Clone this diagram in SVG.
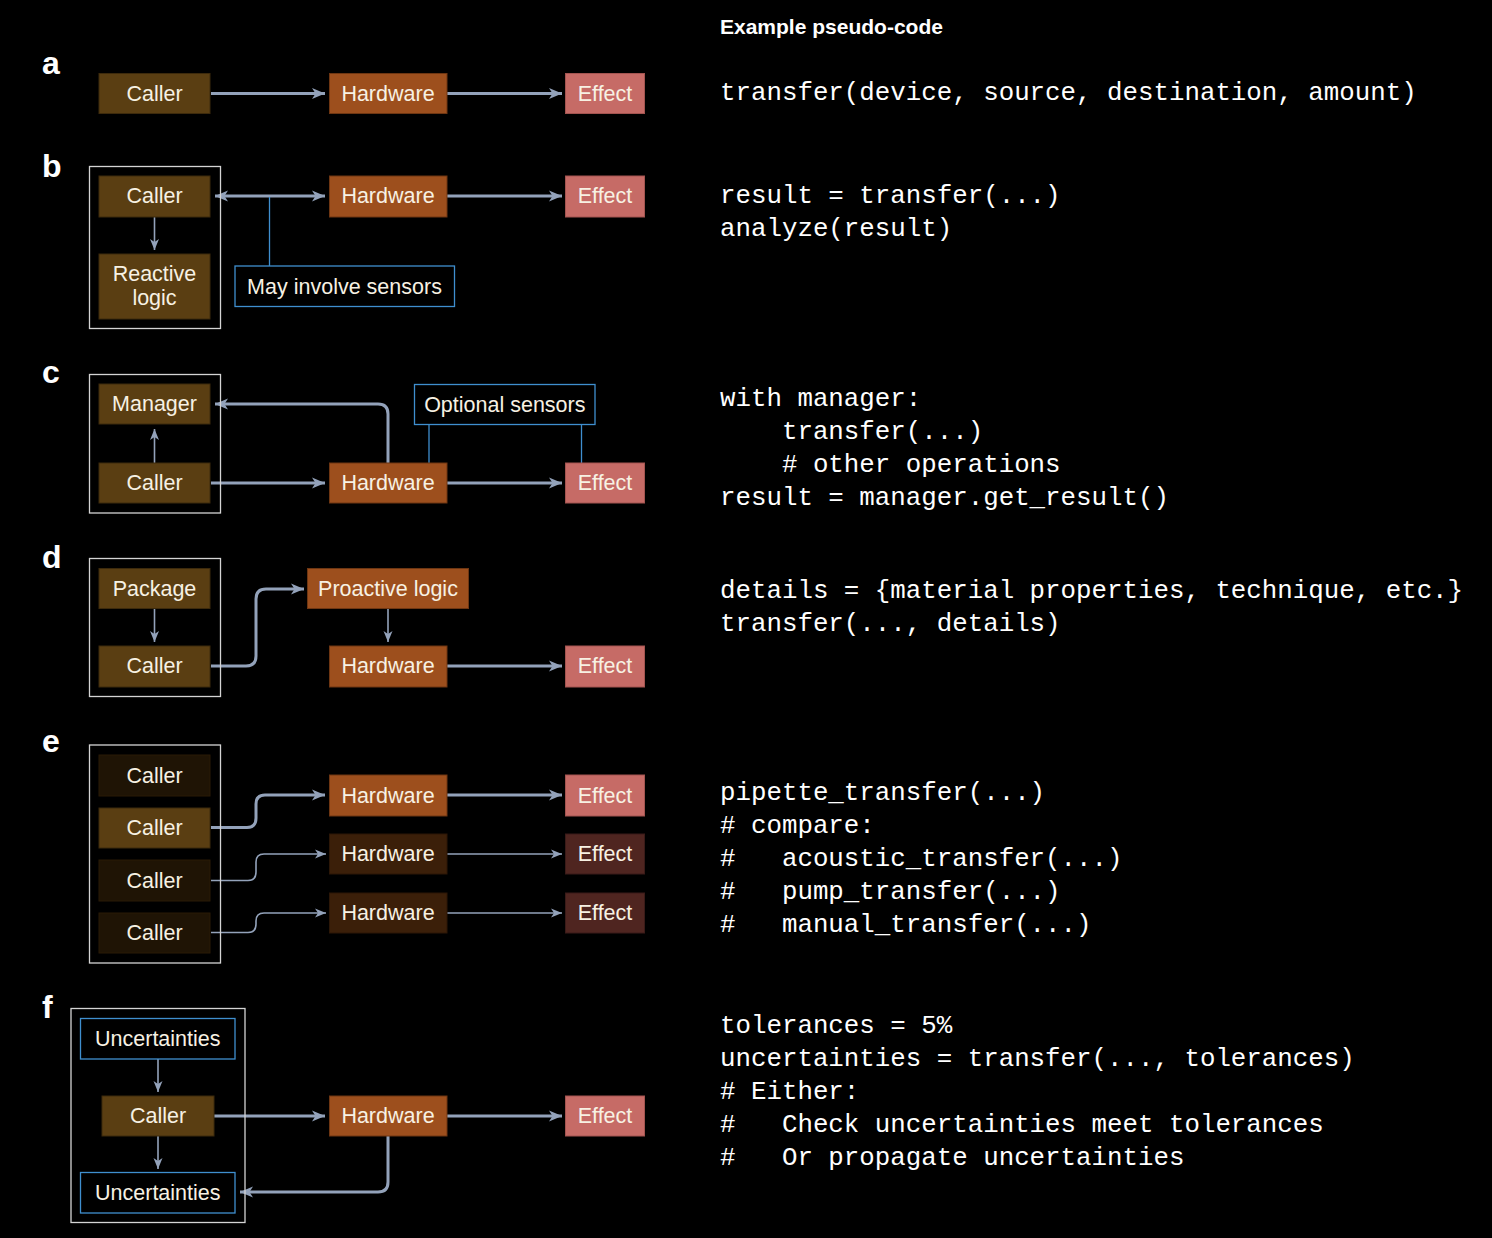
<svg xmlns="http://www.w3.org/2000/svg" width="1492" height="1238" viewBox="0 0 1492 1238">
<style>
.bg{fill:#000}
.lbl{font-family:"Liberation Sans",Arial,sans-serif;font-weight:900;font-size:32px;fill:#fff}
.t{font-family:"Liberation Sans",Arial,sans-serif;font-size:21.5px;fill:#f7f1e3;text-anchor:middle;dominant-baseline:central}
.caller{fill:#5a3e12;stroke:#3d2a0c;stroke-width:1}
.callerd{fill:#1f1405;stroke:#2a1b07;stroke-width:1}
.hw{fill:#9d4f1d;stroke:#6e3612;stroke-width:1}
.hwd{fill:#3b1f09;stroke:#2c1707;stroke-width:1}
.eff{fill:#c66b66;stroke:#a35450;stroke-width:1}
.effd{fill:#4f2520;stroke:#3a1b18;stroke-width:1}
.sens{fill:#000;stroke:#3f8fcf;stroke-width:1.3}
.outer{fill:none;stroke:#d4d4d4;stroke-width:1.3}
.c{fill:none;stroke:#93a2ba;stroke-width:3}
.cn{fill:none;stroke:#93a2ba;stroke-width:1.6}
.sl{fill:none;stroke:#3f8fcf;stroke-width:1.3}
.code{font-family:"Liberation Mono","Courier New",monospace;font-size:25.8px;fill:#fff;white-space:pre}
.hd{font-family:"Liberation Sans",Arial,sans-serif;font-weight:700;font-size:21px;fill:#fff}
</style>
<defs>
<marker id="ah" markerUnits="userSpaceOnUse" markerWidth="14" markerHeight="14" viewBox="0 0 14 14" refX="13" refY="7" orient="auto-start-reverse">
<path d="M0,1.5 L13,7 L0,12.5 L3.5,7 z" fill="#93a2ba"/>
</marker>
<marker id="ahs" markerUnits="userSpaceOnUse" markerWidth="12" markerHeight="12" viewBox="0 0 12 12" refX="11" refY="6" orient="auto-start-reverse">
<path d="M0,1.5 L11,6 L0,10.5 L3,6 z" fill="#93a2ba"/>
</marker>
</defs>
<rect class="bg" x="0" y="0" width="1492" height="1238"/>

<g id="labels">
<text class="lbl" x="42" y="74">a</text>
<text class="lbl" x="42" y="177">b</text>
<text class="lbl" x="42" y="383">c</text>
<text class="lbl" x="42" y="568">d</text>
<text class="lbl" x="42" y="752">e</text>
<text class="lbl" x="42" y="1018">f</text>
</g>

<g id="connectors">
<!-- a -->
<path class="c" d="M211,93.5 H325" marker-end="url(#ah)"/>
<path class="c" d="M447,93.5 H562" marker-end="url(#ah)"/>
<!-- b -->
<path class="c" d="M215,196 H325" marker-start="url(#ah)" marker-end="url(#ah)"/>
<path class="c" d="M447,196 H562" marker-end="url(#ah)"/>
<path class="cn" d="M154.5,217 V250" marker-end="url(#ahs)"/>
<path class="sl" d="M269.5,197 V266"/>
<!-- c -->
<path class="c" d="M211,483 H325" marker-end="url(#ah)"/>
<path class="c" d="M447,483 H562" marker-end="url(#ah)"/>
<path class="cn" d="M154.5,463 V429" marker-end="url(#ahs)"/>
<path class="c" d="M388,463 V414 Q388,404 378,404 H215" marker-end="url(#ah)"/>
<path class="sl" d="M429,424 V463"/>
<path class="sl" d="M581.5,424 V463"/>
<!-- d -->
<path class="cn" d="M154.5,609 V642" marker-end="url(#ahs)"/>
<path class="c" d="M211,666 H246 Q256,666 256,656 V599 Q256,589 266,589 H304" marker-end="url(#ah)"/>
<path class="cn" d="M388,609 V642" marker-end="url(#ahs)"/>
<path class="c" d="M447,666 H562" marker-end="url(#ah)"/>
<!-- e -->
<path class="c" d="M211,827.5 H247 Q256,827.5 256,818 V804 Q256,795 265,795 H325" marker-end="url(#ah)"/>
<path class="c" d="M447,795 H562" marker-end="url(#ah)"/>
<path class="cn" d="M211,880.5 H248 Q256,880.5 256,872 V862 Q256,854 264,854 H326" marker-end="url(#ahs)"/>
<path class="cn" d="M447,854 H562" marker-end="url(#ahs)"/>
<path class="cn" d="M211,932.5 H248 Q256,932.5 256,924 V921 Q256,913 264,913 H326" marker-end="url(#ahs)"/>
<path class="cn" d="M447,913 H562" marker-end="url(#ahs)"/>
<!-- f -->
<path class="cn" d="M158,1059 V1092" marker-end="url(#ahs)"/>
<path class="cn" d="M158,1136 V1169" marker-end="url(#ahs)"/>
<path class="c" d="M214,1116 H325" marker-end="url(#ah)"/>
<path class="c" d="M447,1116 H562" marker-end="url(#ah)"/>
<path class="c" d="M388,1136 V1182 Q388,1192 378,1192 H240" marker-end="url(#ah)"/>
</g>

<!-- panel a -->
<g id="a-caller"><rect class="caller" x="99" y="73.5" width="111" height="40"/><text class="t" x="154.5" y="93.5">Caller</text></g>
<g id="a-hardware"><rect class="hw" x="329.5" y="73.5" width="117.5" height="40"/><text class="t" x="388" y="93.5">Hardware</text></g>
<g id="a-effect"><rect class="eff" x="565.5" y="73.5" width="79" height="40"/><text class="t" x="605" y="93.5">Effect</text></g>

<!-- panel b -->
<g id="b-group"><rect class="outer" x="89.5" y="166.5" width="131" height="162"/></g>
<g id="b-caller"><rect class="caller" x="99" y="176" width="111" height="41"/><text class="t" x="154.5" y="196">Caller</text></g>
<g id="b-reactive"><rect class="caller" x="99" y="254" width="111" height="65"/><text class="t" x="154.5" y="274">Reactive</text><text class="t" x="154.5" y="298">logic</text></g>
<g id="b-hardware"><rect class="hw" x="329.5" y="176" width="117.5" height="41"/><text class="t" x="388" y="196">Hardware</text></g>
<g id="b-effect"><rect class="eff" x="565.5" y="176" width="79" height="41"/><text class="t" x="605" y="196">Effect</text></g>
<g id="b-sensors"><rect class="sens" x="235" y="266" width="219.5" height="40.5"/><text class="t" x="344.5" y="286.5">May involve sensors</text></g>

<!-- panel c -->
<g id="c-group"><rect class="outer" x="89.5" y="374.5" width="131" height="138.5"/></g>
<g id="c-manager"><rect class="caller" x="99" y="384" width="111" height="40"/><text class="t" x="154.5" y="404">Manager</text></g>
<g id="c-caller"><rect class="caller" x="99" y="463" width="111" height="40"/><text class="t" x="154.5" y="483">Caller</text></g>
<g id="c-hardware"><rect class="hw" x="329.5" y="463" width="117.5" height="40"/><text class="t" x="388" y="483">Hardware</text></g>
<g id="c-effect"><rect class="eff" x="565.5" y="463" width="79" height="40"/><text class="t" x="605" y="483">Effect</text></g>
<g id="c-sensors"><rect class="sens" x="414.5" y="384.5" width="180.5" height="40"/><text class="t" x="504.8" y="404.5">Optional sensors</text></g>

<!-- panel d -->
<g id="d-group"><rect class="outer" x="89.5" y="558.5" width="131" height="138"/></g>
<g id="d-package"><rect class="caller" x="99" y="568.5" width="111" height="40"/><text class="t" x="154.5" y="588.5">Package</text></g>
<g id="d-caller"><rect class="caller" x="99" y="646" width="111" height="41"/><text class="t" x="154.5" y="666">Caller</text></g>
<g id="d-proactive"><rect class="hw" x="307.5" y="568.5" width="161" height="40"/><text class="t" x="388" y="588.5">Proactive logic</text></g>
<g id="d-hardware"><rect class="hw" x="329.5" y="646" width="117.5" height="41"/><text class="t" x="388" y="666">Hardware</text></g>
<g id="d-effect"><rect class="eff" x="565.5" y="646" width="79" height="41"/><text class="t" x="605" y="666">Effect</text></g>

<!-- panel e -->
<g id="e-group"><rect class="outer" x="89.5" y="745" width="131" height="218"/></g>
<g id="e-caller1"><rect class="callerd" x="99" y="755" width="111" height="41"/><text class="t" x="154.5" y="775.5">Caller</text></g>
<g id="e-caller2"><rect class="caller" x="99" y="808" width="111" height="40"/><text class="t" x="154.5" y="828">Caller</text></g>
<g id="e-caller3"><rect class="callerd" x="99" y="860" width="111" height="41"/><text class="t" x="154.5" y="880.5">Caller</text></g>
<g id="e-caller4"><rect class="callerd" x="99" y="913" width="111" height="40"/><text class="t" x="154.5" y="933">Caller</text></g>
<g id="e-hardware1"><rect class="hw" x="329.5" y="775" width="117.5" height="41"/><text class="t" x="388" y="795.5">Hardware</text></g>
<g id="e-hardware2"><rect class="hwd" x="329.5" y="834" width="117.5" height="40"/><text class="t" x="388" y="854">Hardware</text></g>
<g id="e-hardware3"><rect class="hwd" x="329.5" y="893" width="117.5" height="40"/><text class="t" x="388" y="913">Hardware</text></g>
<g id="e-effect1"><rect class="eff" x="565.5" y="775" width="79" height="41"/><text class="t" x="605" y="795.5">Effect</text></g>
<g id="e-effect2"><rect class="effd" x="565.5" y="834" width="79" height="40"/><text class="t" x="605" y="854">Effect</text></g>
<g id="e-effect3"><rect class="effd" x="565.5" y="893" width="79" height="40"/><text class="t" x="605" y="913">Effect</text></g>

<!-- panel f -->
<g id="f-group"><rect class="outer" x="71" y="1008.5" width="174" height="214"/></g>
<g id="f-unc1"><rect class="sens" x="80.5" y="1018.5" width="154.5" height="40.5"/><text class="t" x="157.8" y="1039">Uncertainties</text></g>
<g id="f-caller"><rect class="caller" x="102" y="1096" width="112" height="40"/><text class="t" x="158" y="1116">Caller</text></g>
<g id="f-unc2"><rect class="sens" x="80.5" y="1172.5" width="154.5" height="40.5"/><text class="t" x="157.8" y="1193">Uncertainties</text></g>
<g id="f-hardware"><rect class="hw" x="329.5" y="1096" width="117.5" height="40"/><text class="t" x="388" y="1116">Hardware</text></g>
<g id="f-effect"><rect class="eff" x="565.5" y="1096" width="79" height="40"/><text class="t" x="605" y="1116">Effect</text></g>

<g id="code">
<text class="hd" x="720" y="34">Example pseudo-code</text>
<text class="code" x="720" y="100">transfer(device, source, destination, amount)</text>
<text class="code" x="720" y="203">result = transfer(...)</text>
<text class="code" x="720" y="236">analyze(result)</text>
<text class="code" x="720" y="406">with manager:</text>
<text class="code" x="720" y="439">    transfer(...)</text>
<text class="code" x="720" y="472">    # other operations</text>
<text class="code" x="720" y="505">result = manager.get_result()</text>
<text class="code" x="720" y="598">details = {material properties, technique, etc.}</text>
<text class="code" x="720" y="631">transfer(..., details)</text>
<text class="code" x="720" y="800">pipette_transfer(...)</text>
<text class="code" x="720" y="833"># compare:</text>
<text class="code" x="720" y="866">#   acoustic_transfer(...)</text>
<text class="code" x="720" y="899">#   pump_transfer(...)</text>
<text class="code" x="720" y="932">#   manual_transfer(...)</text>
<text class="code" x="720" y="1033">tolerances = 5%</text>
<text class="code" x="720" y="1066">uncertainties = transfer(..., tolerances)</text>
<text class="code" x="720" y="1099"># Either:</text>
<text class="code" x="720" y="1132">#   Check uncertainties meet tolerances</text>
<text class="code" x="720" y="1165">#   Or propagate uncertainties</text>
</g>
</svg>
